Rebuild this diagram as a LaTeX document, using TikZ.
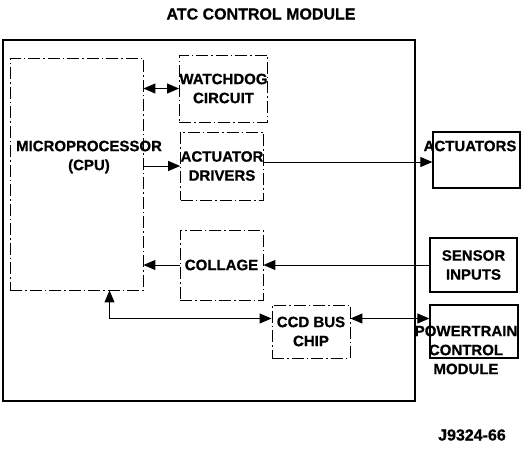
\documentclass[tikz,border=0pt]{standalone}
\usepackage{fontspec}
\setmainfont{Liberation Sans}[FakeBold=0.7]
\usetikzlibrary{arrows.meta}

\begin{document}
\begin{tikzpicture}[x=1pt,y=-1pt,font=\fontsize{15}{19}\selectfont\bfseries]
	\tikzstyle{dbox}=[draw, line width=0.9pt, dash pattern=on 12pt off 3pt on 1.5pt off 3pt, inner sep=0pt, align=center]
	\tikzstyle{sbox}=[draw, line width=1.3pt, inner sep=0pt, align=center]
	\tikzstyle{link}=[line width=1pt, >={Triangle[length=12pt,width=10pt]}]
	\useasboundingbox (0,0) rectangle (522,448);
	% module frame and title
	\node[draw, line width=1.5pt, minimum width=412pt, minimum height=361pt] (atc) at (209,220.5) {};
	\node[font=\fontsize{16}{18}\selectfont\bfseries] (title) at (261,14) {ATC CONTROL MODULE};
	% inner blocks
	\node[dbox, minimum width=133pt, minimum height=232pt] (cpu) at (76.5,174) {};
	\node[align=center] (cpulbl) at (89,157) {MICROPROCESSOR\\(CPU)};
	\node[dbox, minimum width=83pt, minimum height=67pt] (wd) at (223.5,88.5) {WATCHDOG\\CIRCUIT};
	\node[dbox, minimum width=82pt, minimum height=68pt] (drv) at (222,166) {ACTUATOR\\DRIVERS};
	\node[dbox, minimum width=83pt, minimum height=70pt] (col) at (221.5,265) {COLLAGE};
	\node[dbox, minimum width=78pt, minimum height=53pt] (ccd) at (311,331.5) {CCD BUS\\CHIP};
	% outside blocks
	\node[sbox, minimum width=87pt, minimum height=56pt] (act) at (476.5,160) {};
	\node (actlbl) at (470,146) {ACTUATORS};
	\node[sbox, minimum width=87pt, minimum height=54pt] (sens) at (473.5,265) {SENSOR\\INPUTS};
	\node[sbox, minimum width=88pt, minimum height=53pt] (ptm) at (474,331.5) {};
	\node[align=center] (ptmlbl) at (466,350) {POWERTRAIN\\CONTROL\\MODULE};
	% connections
	\draw[link,<->] (wd.west -| cpu.east) -- (wd.west);
	\draw[link,->] (drv.west -| cpu.east) -- (drv.west);
	\draw[link,->] ([yshift=4pt]drv.east) -- ([yshift=4pt]drv.east -| act.west);
	\draw[link,->] (sens.west) -- (sens.west -| col.east);
	\draw[link,->] (col.west) -- (col.west -| cpu.east);
	\draw[link,<->] ([xshift=33pt]cpu.south) |- ([yshift=13pt]ccd.west);
	\draw[link,<->] ([yshift=13pt]ccd.east) -- ([yshift=13pt]ccd.east -| ptm.west);
	\node[font=\fontsize{16}{18}\selectfont\bfseries] (fig) at (472,435) {J9324-66};
\end{tikzpicture}
\end{document}
